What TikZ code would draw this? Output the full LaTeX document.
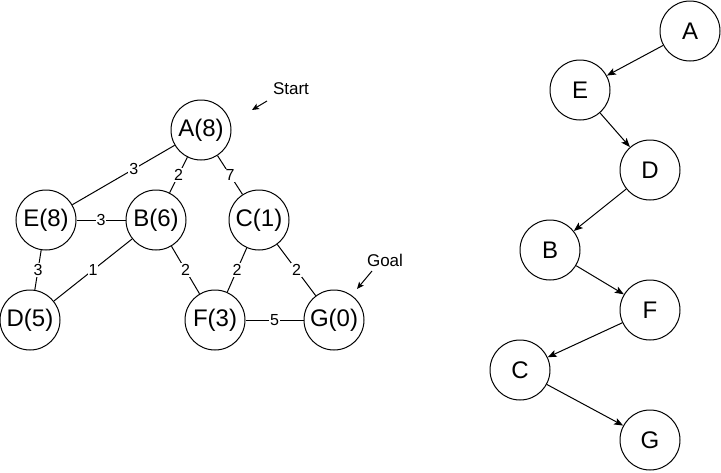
\documentclass[tikz,border=0pt]{standalone}
\usepackage{fontspec}
\setmainfont{Liberation Sans}
\usetikzlibrary{arrows.meta}
\tikzset{>={Stealth[length=9pt,width=7pt,inset=2pt]}}
\tikzset{
  state/.style={draw, circle, minimum size=60pt, inner sep=0pt,
    font=\fontsize{24}{24}\selectfont},
  cost/.style={fill=white, inner sep=1pt, font=\fontsize{16}{16}\selectfont},
  note/.style={font=\fontsize{17}{17}\selectfont},
}

\begin{document}
\begin{tikzpicture}[x=1pt, y=-1pt, line width=1pt]
  \useasboundingbox (0,0) rectangle (721,472);
  % graph with heuristic values
  \begin{scope}
    \node[state] (A) at (201,130) {A(8)};
    \node[state] (E) at (46,220) {E(8)};
    \node[state] (B) at (156,220) {B(6)};
    \node[state] (C) at (259,220) {C(1)};
    \node[state] (D) at (30,320) {D(5)};
    \node[state] (F) at (215,320) {F(3)};
    \node[state] (G) at (334,320) {G(0)};
    \draw (A) -- node[cost, pos=0.4] {3} (E);
    \draw (A) -- node[cost] {2} (B);
    \draw (A) -- node[cost] {7} (C);
    \draw (E) -- node[cost] {3} (B);
    \draw (E) -- node[cost] {3} (D);
    \draw (B) -- node[cost] {1} (D);
    \draw (B) -- node[cost] {2} (F);
    \draw (C) -- node[cost] {2} (F);
    \draw (C) -- node[cost] {2} (G);
    \draw (F) -- node[cost] {5} (G);
    \node[note] (start) at (291,89) {Start};
    \node[note] (goal) at (385,260) {Goal};
    \coordinate (s1) at (267,101);
    \coordinate (s2) at (252,110);
    \coordinate (g1) at (372,271);
    \coordinate (g2) at (357,289);
    \draw[-{Stealth[length=7pt,width=6pt,inset=1.5pt]}] (s1) -- (s2);
    \draw[-{Stealth[length=7pt,width=6pt,inset=1.5pt]}] (g1) -- (g2);
  \end{scope}
  % order of expansion
  \begin{scope}
    \node[state] (tA) at (690,31) {A};
    \node[state] (tE) at (580,90) {E};
    \node[state] (tD) at (650,170) {D};
    \node[state] (tB) at (550,250) {B};
    \node[state] (tF) at (650,310) {F};
    \node[state] (tC) at (520,370) {C};
    \node[state] (tG) at (650,440) {G};
    \draw[->] (tA) -- (tE);
    \draw[->] (tE) -- (tD);
    \draw[->] (tD) -- (tB);
    \draw[->] (tB) -- (tF);
    \draw[->] (tF) -- (tC);
    \draw[->] (tC) -- (tG);
  \end{scope}
\end{tikzpicture}
\end{document}
